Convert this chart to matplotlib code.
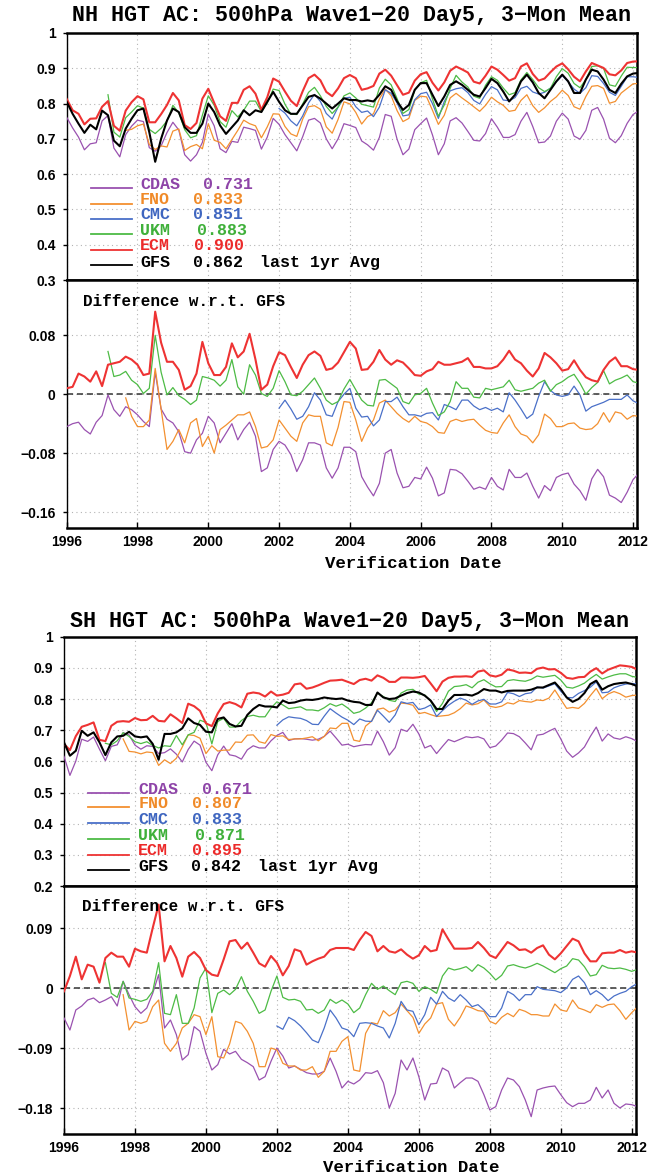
import numpy as np
import matplotlib.pyplot as plt
from matplotlib.lines import Line2D

nan = np.nan

# one value every two months, Jan 1996 .. Mar 2012 (rows = years)
years = 1996 + np.arange(98) / 6.0

models = ["CDAS", "FNO", "CMC", "UKM", "ECM", "GFS"]
colors = ["#9a52b0", "#f39030", "#4a70c8", "#4dbb45", "#ee3333", "black"]
text_colors = ["#8e44a8", "#f08a28", "#3f66c0", "#3fb03a", "#ec2a2a", "black"]

nh_last = ["0.731", "0.833", "0.851", "0.883", "0.900", "0.862"]
sh_last = ["0.671", "0.807", "0.833", "0.871", "0.895", "0.842"]

# ---------------- NH ----------------
nh_gfs = [
    0.805, 0.771, 0.743, 0.717, 0.740, 0.727,
    0.780, 0.767, 0.695, 0.679, 0.729, 0.757,
    0.781, 0.786, 0.719, 0.635, 0.700, 0.752,
    0.786, 0.776, 0.733, 0.717, 0.717, 0.743,
    0.800, 0.776, 0.738, 0.714, 0.733, 0.752,
    0.781, 0.767, 0.781, 0.776, 0.805, 0.833,
    0.805, 0.781, 0.771, 0.771, 0.795, 0.819,
    0.824, 0.814, 0.800, 0.786, 0.800, 0.815,
    0.810, 0.810, 0.806, 0.809, 0.806, 0.825,
    0.849, 0.839, 0.806, 0.782, 0.796, 0.839,
    0.858, 0.858, 0.825, 0.793, 0.820, 0.853,
    0.863, 0.853, 0.839, 0.825, 0.820, 0.844,
    0.870, 0.858, 0.834, 0.806, 0.825, 0.863,
    0.882, 0.860, 0.830, 0.815, 0.839, 0.863,
    0.882, 0.863, 0.830, 0.830, 0.868, 0.896,
    0.891, 0.868, 0.839, 0.830, 0.856, 0.877,
    0.885, 0.887]

nh_ecm_diff = [
    0.008, 0.010, 0.028, 0.024, 0.017, 0.031,
    0.011, 0.040, 0.042, 0.044, 0.051, 0.047,
    0.040, 0.026, 0.028, 0.112, 0.070, 0.044,
    0.044, 0.033, 0.006, 0.011, 0.028, 0.071,
    0.042, 0.026, 0.026, 0.037, 0.069, 0.050,
    0.058, 0.082, 0.047, 0.006, 0.013, 0.038,
    0.057, 0.053, 0.037, 0.022, 0.040, 0.053,
    0.058, 0.052, 0.033, 0.035, 0.043, 0.057,
    0.071, 0.062, 0.033, 0.034, 0.044, 0.060,
    0.047, 0.040, 0.046, 0.043, 0.035, 0.026,
    0.025, 0.031, 0.034, 0.044, 0.040, 0.040,
    0.042, 0.044, 0.049, 0.037, 0.037, 0.035,
    0.035, 0.038, 0.047, 0.059, 0.047, 0.042,
    0.032, 0.024, 0.035, 0.056, 0.050, 0.042,
    0.032, 0.034, 0.046, 0.033, 0.023, 0.019,
    0.017, 0.033, 0.044, 0.050, 0.038, 0.038,
    0.034, 0.033]

nh_ukm_diff = [
    nan, nan, nan, nan, nan, nan,
    nan, 0.058, 0.024, 0.026, 0.031, 0.019,
    0.013, 0.001, 0.008, 0.080, 0.030, -0.001,
    0.009, -0.002, -0.007, -0.014, -0.008, 0.024,
    0.022, 0.019, 0.011, 0.019, 0.047, 0.010,
    0.000, 0.040, 0.026, 0.001, -0.003, 0.008,
    0.032, 0.017, -0.001, -0.002, 0.004, 0.013,
    0.022, 0.008, -0.008, -0.014, -0.010, 0.007,
    0.020, 0.006, -0.008, -0.015, -0.016, 0.019,
    0.020, 0.014, 0.008, -0.010, -0.013, -0.001,
    0.001, 0.008, -0.012, -0.029, -0.024, -0.010,
    0.017, 0.008, 0.008, -0.004, -0.005, 0.008,
    0.006, 0.008, 0.010, 0.019, 0.006, 0.004,
    0.006, 0.008, 0.015, 0.019, 0.004, 0.013,
    0.017, 0.023, 0.027, 0.015, 0.000, 0.009,
    0.016, 0.032, 0.014, 0.019, 0.022, 0.026,
    0.017, 0.015]

nh_cmc_diff = [nan] * 36 + [
    -0.019, -0.008, -0.020, -0.034, -0.030, -0.017,
    0.002, -0.008, -0.028, -0.030, -0.010, 0.000,
    0.008, -0.019, -0.031, -0.030, -0.043, -0.035,
    -0.010, -0.010, -0.004, -0.017, -0.028, -0.028,
    -0.030, -0.026, -0.025, -0.035, -0.014, -0.017,
    -0.021, -0.008, -0.008, -0.016, -0.021, -0.018,
    -0.022, -0.019, -0.024, 0.002, -0.008, -0.020,
    -0.033, -0.027, -0.003, 0.017, 0.005, -0.001,
    -0.003, -0.001, 0.011, -0.001, -0.023, -0.017,
    -0.014, -0.011, -0.007, -0.007, -0.007, -0.001,
    -0.009, -0.013]

nh_fno_diff = [
    nan, nan, nan, nan, nan, nan,
    nan, nan, nan, nan, -0.005, -0.030,
    -0.044, -0.044, -0.035, 0.035, -0.020, -0.075,
    -0.064, -0.048, -0.066, -0.039, -0.033, -0.071,
    -0.057, -0.080, -0.048, -0.042, -0.035, -0.028,
    -0.028, -0.024, -0.044, -0.073, -0.071, -0.062,
    -0.035, -0.046, -0.057, -0.064, -0.039, -0.028,
    -0.030, -0.030, -0.066, -0.070, -0.045, -0.010,
    -0.011, -0.035, -0.064, -0.046, -0.035, -0.012,
    -0.008, -0.017, -0.026, -0.033, -0.038, -0.030,
    -0.037, -0.039, -0.044, -0.052, -0.053, -0.037,
    -0.034, -0.037, -0.035, -0.034, -0.042, -0.049,
    -0.052, -0.053, -0.039, -0.028, -0.044, -0.054,
    -0.057, -0.066, -0.055, -0.027, -0.033, -0.044,
    -0.044, -0.040, -0.039, -0.046, -0.048, -0.047,
    -0.040, -0.025, -0.038, -0.024, -0.026, -0.034,
    -0.029, -0.030]

nh_cdas_diff = [
    -0.044, -0.040, -0.038, -0.048, -0.054, -0.038,
    -0.029, -0.001, -0.021, -0.030, -0.017, -0.021,
    -0.028, -0.037, -0.044, 0.030, -0.020, -0.034,
    -0.039, -0.051, -0.078, -0.080, -0.062, -0.053,
    -0.030, -0.039, -0.066, -0.053, -0.040, -0.062,
    -0.048, -0.038, -0.057, -0.105, -0.100, -0.075,
    -0.064, -0.069, -0.082, -0.105, -0.089, -0.066,
    -0.066, -0.069, -0.100, -0.114, -0.100, -0.072,
    -0.072, -0.078, -0.112, -0.126, -0.138, -0.121,
    -0.080, -0.075, -0.107, -0.127, -0.125, -0.113,
    -0.115, -0.099, -0.114, -0.138, -0.134, -0.102,
    -0.103, -0.108, -0.118, -0.129, -0.126, -0.129,
    -0.113, -0.125, -0.130, -0.102, -0.113, -0.113,
    -0.107, -0.125, -0.141, -0.124, -0.131, -0.113,
    -0.109, -0.107, -0.122, -0.131, -0.144, -0.115,
    -0.102, -0.112, -0.137, -0.141, -0.147, -0.133,
    -0.116, -0.107]

# ---------------- SH ----------------
sh_gfs = [
    0.661, 0.618, 0.634, 0.698, 0.682, 0.693,
    0.661, 0.620, 0.661, 0.680, 0.682, 0.695,
    0.680, 0.677, 0.680, 0.656, 0.605, 0.688,
    0.688, 0.693, 0.706, 0.738, 0.723, 0.717,
    0.695, 0.693, 0.736, 0.741, 0.720, 0.712,
    0.714, 0.749, 0.768, 0.781, 0.776, 0.776,
    0.773, 0.795, 0.787, 0.789, 0.795, 0.798,
    0.797, 0.800, 0.805, 0.802, 0.800, 0.802,
    0.795, 0.791, 0.789, 0.781, 0.781, 0.821,
    0.805, 0.800, 0.802, 0.811, 0.819, 0.824,
    0.821, 0.811, 0.795, 0.768, 0.768, 0.795,
    0.813, 0.813, 0.814, 0.811, 0.819, 0.832,
    0.827, 0.827, 0.821, 0.826, 0.827, 0.827,
    0.827, 0.830, 0.837, 0.837, 0.845, 0.853,
    0.832, 0.805, 0.791, 0.800, 0.819, 0.848,
    0.859, 0.830, 0.841, 0.848, 0.851, 0.853,
    0.848, 0.841]

sh_ecm_diff = [
    -0.005, 0.018, 0.047, 0.013, 0.035, 0.032,
    0.008, 0.045, 0.053, 0.047, 0.047, 0.032,
    0.059, 0.055, 0.053, 0.090, 0.125, 0.040,
    0.063, 0.045, 0.017, 0.047, 0.054, 0.045,
    0.027, 0.020, 0.018, 0.043, 0.070, 0.072,
    0.059, 0.068, 0.053, 0.037, 0.032, 0.048,
    0.038, 0.019, 0.033, 0.058, 0.055, 0.035,
    0.040, 0.044, 0.047, 0.057, 0.060, 0.060,
    0.060, 0.057, 0.072, 0.084, 0.078, 0.055,
    0.063, 0.055, 0.053, 0.058, 0.050, 0.044,
    0.049, 0.063, 0.055, 0.057, 0.088, 0.073,
    0.059, 0.059, 0.059, 0.060, 0.069, 0.060,
    0.049, 0.045, 0.057, 0.069, 0.064, 0.057,
    0.058, 0.053, 0.060, 0.064, 0.050, 0.043,
    0.052, 0.063, 0.074, 0.070, 0.052, 0.040,
    0.040, 0.052, 0.053, 0.053, 0.057, 0.053,
    0.055, 0.053]

sh_ukm_diff = [
    nan, nan, nan, nan, nan, nan,
    nan, 0.038, -0.008, -0.014, 0.010, -0.015,
    -0.017, -0.020, -0.017, -0.005, 0.038, -0.038,
    -0.040, -0.010, -0.053, -0.053, -0.030, 0.015,
    0.030, -0.037, -0.008, -0.003, -0.010, -0.002,
    0.017, -0.005, -0.020, -0.038, -0.033, -0.005,
    0.018, -0.014, -0.018, -0.017, -0.020, -0.033,
    -0.032, -0.038, -0.033, -0.017, -0.023, -0.018,
    -0.024, -0.037, -0.030, -0.010, 0.007, -0.002,
    0.003, -0.004, -0.010, 0.008, 0.010, 0.007,
    -0.005, 0.002, -0.002, -0.008, 0.018, 0.030,
    0.027, 0.029, 0.032, 0.025, 0.035, 0.030,
    0.022, 0.012, 0.019, 0.033, 0.035, 0.032,
    0.030, 0.033, 0.037, 0.033, 0.028, 0.023,
    0.029, 0.033, 0.044, 0.042, 0.032, 0.018,
    0.020, 0.034, 0.030, 0.029, 0.030, 0.028,
    0.025, 0.028]

sh_cmc_diff = [nan] * 36 + [
    -0.057, -0.062, -0.044, -0.049, -0.057, -0.067,
    -0.078, -0.082, -0.060, -0.033, -0.045, -0.060,
    -0.063, -0.073, -0.053, -0.052, -0.053, -0.057,
    -0.060, -0.075, -0.053, -0.020, -0.033, -0.035,
    -0.055, -0.040, -0.014, -0.024, -0.005, -0.015,
    -0.020, -0.010, -0.018, -0.028, -0.025, -0.033,
    -0.043, -0.043, -0.030, -0.005, -0.010, -0.019,
    -0.010, -0.010, 0.002, -0.002, -0.003, -0.004,
    -0.007, 0.000, 0.013, 0.018, 0.008, -0.010,
    -0.004, -0.010, -0.019, -0.012, -0.008, -0.005,
    0.002, 0.007]

sh_fno_diff = [
    nan, nan, nan, nan, nan, nan,
    nan, nan, nan, nan, -0.010, -0.063,
    -0.050, -0.053, -0.050, -0.028, -0.018, -0.083,
    -0.095, -0.083, -0.060, -0.053, -0.040, -0.043,
    -0.070, -0.043, -0.103, -0.105, -0.084, -0.050,
    -0.053, -0.065, -0.083, -0.118, -0.118, -0.090,
    -0.093, -0.113, -0.117, -0.117, -0.123, -0.123,
    -0.118, -0.134, -0.125, -0.095, -0.095, -0.080,
    -0.073, -0.123, -0.125, -0.068, -0.052, -0.054,
    -0.034, -0.042, -0.037, -0.024, -0.034, -0.044,
    -0.068, -0.054, -0.045, -0.024, -0.022, -0.047,
    -0.057, -0.044, -0.027, -0.030, -0.034, -0.035,
    -0.050, -0.054, -0.044, -0.038, -0.043, -0.032,
    -0.035, -0.040, -0.040, -0.042, -0.042, -0.024,
    -0.033, -0.035, -0.018, -0.030, -0.033, -0.037,
    -0.025, -0.029, -0.025, -0.024, -0.034, -0.047,
    -0.037, -0.028]

sh_cdas_diff = [
    -0.045, -0.063, -0.033, -0.027, -0.018, -0.015,
    -0.022, -0.018, -0.013, -0.027, 0.010, -0.010,
    -0.028, -0.038, -0.030, -0.008, 0.020, -0.060,
    -0.048, -0.070, -0.108, -0.100, -0.058, -0.065,
    -0.098, -0.123, -0.115, -0.092, -0.099, -0.095,
    -0.107, -0.112, -0.118, -0.138, -0.133, -0.110,
    -0.090, -0.102, -0.120, -0.117, -0.122, -0.127,
    -0.129, -0.129, -0.125, -0.105, -0.125, -0.150,
    -0.140, -0.144, -0.138, -0.127, -0.128, -0.124,
    -0.142, -0.180, -0.158, -0.108, -0.123, -0.105,
    -0.133, -0.168, -0.144, -0.143, -0.120, -0.125,
    -0.150, -0.142, -0.135, -0.135, -0.140, -0.160,
    -0.183, -0.178, -0.153, -0.135, -0.138, -0.148,
    -0.168, -0.193, -0.153, -0.150, -0.148, -0.147,
    -0.160, -0.172, -0.178, -0.173, -0.173, -0.168,
    -0.149, -0.165, -0.153, -0.173, -0.180, -0.174,
    -0.175, -0.178]

nh_diffs = [nh_cdas_diff, nh_fno_diff, nh_cmc_diff, nh_ukm_diff, nh_ecm_diff]
sh_diffs = [sh_cdas_diff, sh_fno_diff, sh_cmc_diff, sh_ukm_diff, sh_ecm_diff]

W, H = 660, 1175
fig = plt.figure(figsize=(W / 100, H / 100), dpi=100)


def fx(x):
    return x / W


def fy(y):
    return 1 - y / H


def px_axes(x0, x1, ytop, ybot):
    return fig.add_axes([fx(x0), fy(ybot), (x1 - x0) / W, (ybot - ytop) / H])


tick_font = dict(family=["Liberation Sans", "DejaVu Sans"], weight="bold", size=10)
mono = ["Liberation Mono", "DejaVu Sans Mono"]
grid_kw = dict(color="#b4b4b4", linestyle=(0, (1, 3)), linewidth=0.8)


def style(ax, ylim, yticks, ylabels, bottom):
    ax.set_xlim(1996, 2012.12)
    ax.set_ylim(*ylim)
    ax.set_xticks(range(1996, 2013, 2))
    ax.set_yticks(yticks)
    ax.set_yticklabels(ylabels, fontdict=tick_font)
    if bottom:
        ax.set_xticklabels([str(y) for y in range(1996, 2013, 2)], fontdict=tick_font)
        ax.tick_params(axis="x", direction="in", length=4, width=1, pad=5)
    else:
        ax.set_xticklabels([])
        ax.tick_params(axis="x", length=0)
    ax.tick_params(axis="y", length=3, width=1, pad=5)
    ax.grid(True, **grid_kw)
    ax.set_axisbelow(True)
    for s in ["top", "right", "bottom"]:
        ax.spines[s].set_linewidth(1.8)
    ax.spines["left"].set_linewidth(1.0)


def draw(ax_ac, ax_df, gfs, diffs):
    gfs = np.array(gfs, dtype=float)
    for i, d in enumerate(diffs):
        d = np.array(d, dtype=float)
        lw = 1.5 if models[i] == "ECM" else 0.9
        ax_ac.plot(years, gfs + d, color=colors[i], lw=lw, zorder=3)
        ax_df.plot(years, d, color=colors[i], lw=lw, zorder=3)
    ax_ac.plot(years, gfs, color="black", lw=1.5, zorder=4)
    ax_df.axhline(0, color="#333333", lw=1.1, ls=(0, (4, 2.5)), zorder=2)


def legend(line_x, name_x, rows, val_x, last, avg_x):
    for i, m in enumerate(models):
        ty, ly = rows[i]
        fig.add_artist(Line2D([fx(line_x[0]), fx(line_x[1])], [fy(ly), fy(ly)],
                              color=colors[i], lw=1.3, transform=fig.transFigure))
        fig.text(fx(name_x), fy(ty), m, color=text_colors[i], family=mono,
                 weight="bold", size=12, va="center")
        fig.text(fx(val_x[i]), fy(ty), last[i], color=text_colors[i], family=mono,
                 weight="bold", size=12, va="center")
    ty = rows[-1][0]
    fig.text(fx(avg_x), fy(ty), "last 1yr Avg", color="black", family=mono,
             weight="bold", size=12, va="center")


# ---------- NH block ----------
ax1 = px_axes(66.7, 637.3, 33, 280)
ax2 = px_axes(66.7, 637.3, 280, 528.3)
draw(ax1, ax2, nh_gfs, nh_diffs)
style(ax1, (0.3, 1.0), [0.3, 0.4, 0.5, 0.6, 0.7, 0.8, 0.9, 1.0],
      ["0.3", "0.4", "0.5", "0.6", "0.7", "0.8", "0.9", "1"], False)
style(ax2, (-0.182, 0.155), [-0.16, -0.08, 0, 0.08],
      ["\u22120.16", "\u22120.08", "0", "0.08"], True)

fig.text(fx(352), fy(16), "NH HGT AC: 500hPa Wave1\u221220 Day5, 3\u2212Mon Mean",
         ha="center", va="center", family=mono, weight="bold", size=15.6)
legend((90.7, 131.7), 140,
       [(184.3, 188.3), (199.3, 203.7), (215, 219), (230, 234.3), (245.7, 249.7), (262.7, 265)],
       [203, 193, 193, 197, 194, 193], nh_last, 260)
fig.text(fx(83), fy(302), "Difference w.r.t. GFS", family=mono, weight="bold",
         size=11.5, va="center")
fig.text(fx(325), fy(563), "Verification Date", family=mono, weight="bold",
         size=12.5, va="center")

# ---------- SH block ----------
ax3 = px_axes(64, 636, 636.7, 886)
ax4 = px_axes(64, 636, 886, 1134)
draw(ax3, ax4, sh_gfs, sh_diffs)
style(ax3, (0.2, 1.0), [0.2, 0.3, 0.4, 0.5, 0.6, 0.7, 0.8, 0.9, 1.0],
      ["0.2", "0.3", "0.4", "0.5", "0.6", "0.7", "0.8", "0.9", "1"], False)
style(ax4, (-0.219, 0.153), [-0.18, -0.09, 0, 0.09],
      ["\u22120.18", "\u22120.09", "0", "0.09"], True)

fig.text(fx(350), fy(621), "SH HGT AC: 500hPa Wave1\u221220 Day5, 3\u2212Mon Mean",
         ha="center", va="center", family=mono, weight="bold", size=15.6)
legend((88.3, 129.3), 138.3,
       [(789.3, 792.7), (804, 807.3), (819.3, 822.7), (835.7, 839), (850.7, 855), (866.7, 870)],
       [201.7, 191.7, 192.3, 195, 192.3, 191], sh_last, 258.3)
fig.text(fx(81.7), fy(906.7), "Difference w.r.t. GFS", family=mono, weight="bold",
         size=11.5, va="center")
fig.text(fx(323), fy(1168), "Verification Date", family=mono, weight="bold",
         size=12.5, va="center")

fig.savefig("out.png", dpi=100)
